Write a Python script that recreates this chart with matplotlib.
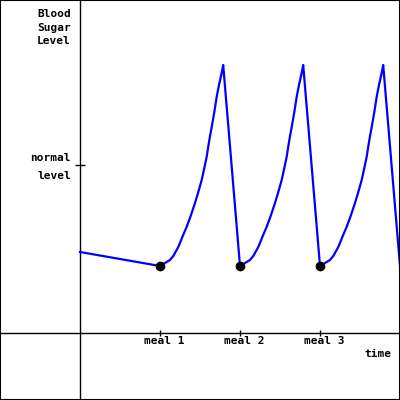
import matplotlib.pyplot as plt

# blood sugar curve (time in meals, sugar in arbitrary units)
time = [0.0,
        1.0, 1.0625, 1.125, 1.166, 1.229, 1.279, 1.333, 1.3875, 1.4375, 1.479,
        1.521, 1.554, 1.583, 1.6125, 1.646, 1.679, 1.708, 1.7375, 1.771, 1.79,
        2.0, 2.0625, 2.125, 2.166, 2.229, 2.279, 2.333, 2.3875, 2.4375, 2.479,
        2.521, 2.554, 2.583, 2.6125, 2.646, 2.679, 2.708, 2.7375, 2.771, 2.79,
        3.0, 3.0625, 3.125, 3.166, 3.229, 3.279, 3.333, 3.3875, 3.4375, 3.479,
        3.521, 3.554, 3.583, 3.6125, 3.646, 3.679, 3.708, 3.7375, 3.771, 3.79,
        4.0]
sugar = [81,
         67, 70, 73, 77, 86, 96, 106, 118, 130, 141,
         153, 165, 176, 191, 206, 221, 236, 248, 260, 268,
         67, 70, 73, 77, 86, 96, 106, 118, 130, 141,
         153, 165, 176, 191, 206, 221, 236, 248, 260, 268,
         67, 70, 73, 77, 86, 96, 106, 118, 130, 141,
         153, 165, 176, 191, 206, 221, 236, 248, 260, 268,
         67]

meal_times = [1, 2, 3]
meal_sugar = [67, 67, 67]
meal_labels = ['meal 1', 'meal 2', 'meal 3']
normal_level = 168

font = dict(family='DejaVu Sans Mono', fontweight='bold', fontsize=8)

fig = plt.figure(figsize=(4, 4), dpi=100)
ax = fig.add_axes([0, 0, 1, 1])
ax.set_xlim(-1, 4)
ax.set_ylim(-67, 333)
ax.set_xticks([])
ax.set_yticks([])
for s in ax.spines.values():
    s.set_linewidth(1.5)
    s.set_color('black')

# axes lines
ax.axhline(0, color='black', lw=1)
ax.axvline(0, color='black', lw=1)

# ticks
ax.plot([0], [normal_level], marker='_', markersize=7, mew=1, color='black')
ax.plot(meal_times, [0] * 3, ls='none', marker='|', markersize=5, mew=1, color='black')

# curve
ax.plot(time, sugar, color='#0000ff', lw=1.6)
ax.plot(meal_times, meal_sugar, 'o', color='black', markersize=6, zorder=3)

# labels
ax.text(-0.1125, 324, 'Blood\nSugar\nLevel', ha='right', va='top', linespacing=1.45, **font)
ax.text(-0.1125, 180, 'normal\nlevel', ha='right', va='top', linespacing=1.95, **font)
for t, lab in zip(meal_times, meal_labels):
    ax.annotate(lab, (t, 0), xytext=(4, -3), textcoords='offset pixels',
                ha='center', va='top', **font)
ax.text(3.8875, -16, 'time', ha='right', va='top', **font)

plt.savefig('out.png', dpi=100)
